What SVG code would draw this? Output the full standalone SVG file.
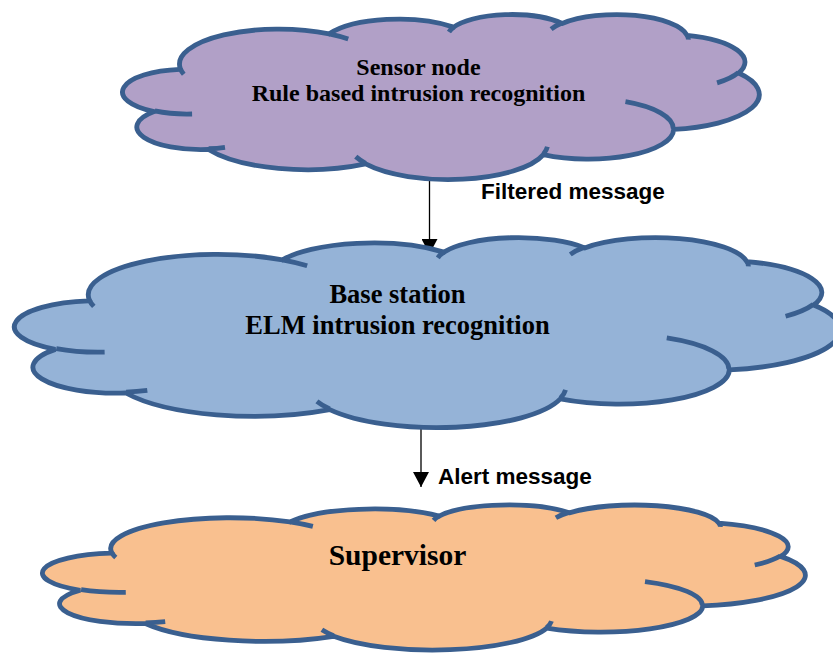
<svg xmlns="http://www.w3.org/2000/svg" xmlns:xlink="http://www.w3.org/1999/xlink" width="833" height="653" viewBox="0 0 833 653">
<style>
.cloud{stroke:#3A5F8F;stroke-width:4.8;stroke-linejoin:miter}
.inner{fill:none;stroke:#3A5F8F;stroke-width:4.8}
.nss{vector-effect:non-scaling-stroke}
.title{font-family:"Liberation Serif","Times New Roman",serif;font-weight:bold;fill:#000;text-anchor:middle}
.lbl{font-family:"Liberation Sans",Arial,sans-serif;font-weight:bold;font-size:22.5px;fill:#000}
.conn{stroke:#000;stroke-width:1.3;fill:none}
</style>
<defs>
<path id="cloudShape" class="nss" vector-effect="non-scaling-stroke" d="M3900 14370 A6753 9190 0 0 1 14006 5203 A5333 7267 0 0 1 22457 3433 A4365 5945 0 0 1 29834 2482 A4857 6595 0 0 1 38319 5577 A5333 7273 0 0 1 41819 15460 A6775 9220 0 0 1 37405 30204 A5785 7867 0 0 1 28557 36814 A6752 9215 0 0 1 16481 39265 A7720 10543 0 0 1 5805 35471 A4360 5918 0 0 1 2114 25549 A4345 5945 0 0 1 3864 14506 Z"/>
<path id="cloudInner" class="nss" vector-effect="non-scaling-stroke" d="M4693 26177 A4345 5945 0 0 1 2160 25380 M6928 34899 A4360 5918 0 0 1 5819 35281 M16478 39090 A6752 9215 0 0 1 15810 37350 M28827 34751 A6752 9215 0 0 1 28560 36660 M34129 22954 A5785 7867 0 0 1 37380 30090 M41798 15354 A5333 7273 0 0 1 40351 18030 M38324 5426 A4857 6595 0 0 1 38400 6690 M29078 3952 A4857 6595 0 0 1 29820 2341 M22141 4720 A4365 5945 0 0 1 22500 3330 M14000 5192 A6753 9190 0 0 1 15299 6540 M4127 15789 A6753 9190 0 0 1 3900 14371"/>
<marker id="ah" viewBox="0 0 15 16" refX="15" refY="8" markerWidth="15" markerHeight="16" markerUnits="userSpaceOnUse" orient="auto">
<path d="M0,0 L15,8 L0,16 Z" fill="#000"/>
</marker>
</defs>
<g id="connectors">
<line class="conn" x1="429.5" y1="181" x2="429.5" y2="254" marker-end="url(#ah)"/>
<line class="conn" x1="421" y1="428" x2="421" y2="487" marker-end="url(#ah)"/>
<text class="lbl" x="481" y="199">Filtered message</text>
<text class="lbl" x="438" y="484">Alert message</text>
</g>
<g id="sensor-node">
<g transform="translate(123,14) scale(0.014722,0.0038194)">
<use xlink:href="#cloudShape" class="cloud" fill="#B1A0C7"/>
<use xlink:href="#cloudInner" class="inner"/>
</g>
<text class="title" font-size="24" x="418.5" y="75">Sensor node</text>
<text class="title" font-size="24" x="418.5" y="101">Rule based intrusion recognition</text>
</g>
<g id="base-station">
<g transform="translate(15,237) scale(0.019097,0.0043981)">
<use xlink:href="#cloudShape" class="cloud" fill="#95B3D7"/>
<use xlink:href="#cloudInner" class="inner"/>
</g>
<text class="title" font-size="26.5" x="397.5" y="303">Base station</text>
<text class="title" font-size="26.5" x="397.5" y="334">ELM intrusion recognition</text>
</g>
<g id="supervisor">
<g transform="translate(43,504.5) scale(0.017639,0.0033565)">
<use xlink:href="#cloudShape" class="cloud" fill="#F9C08F"/>
<use xlink:href="#cloudInner" class="inner"/>
</g>
<text class="title" font-size="29.5" x="397.5" y="565">Supervisor</text>
</g>
</svg>
